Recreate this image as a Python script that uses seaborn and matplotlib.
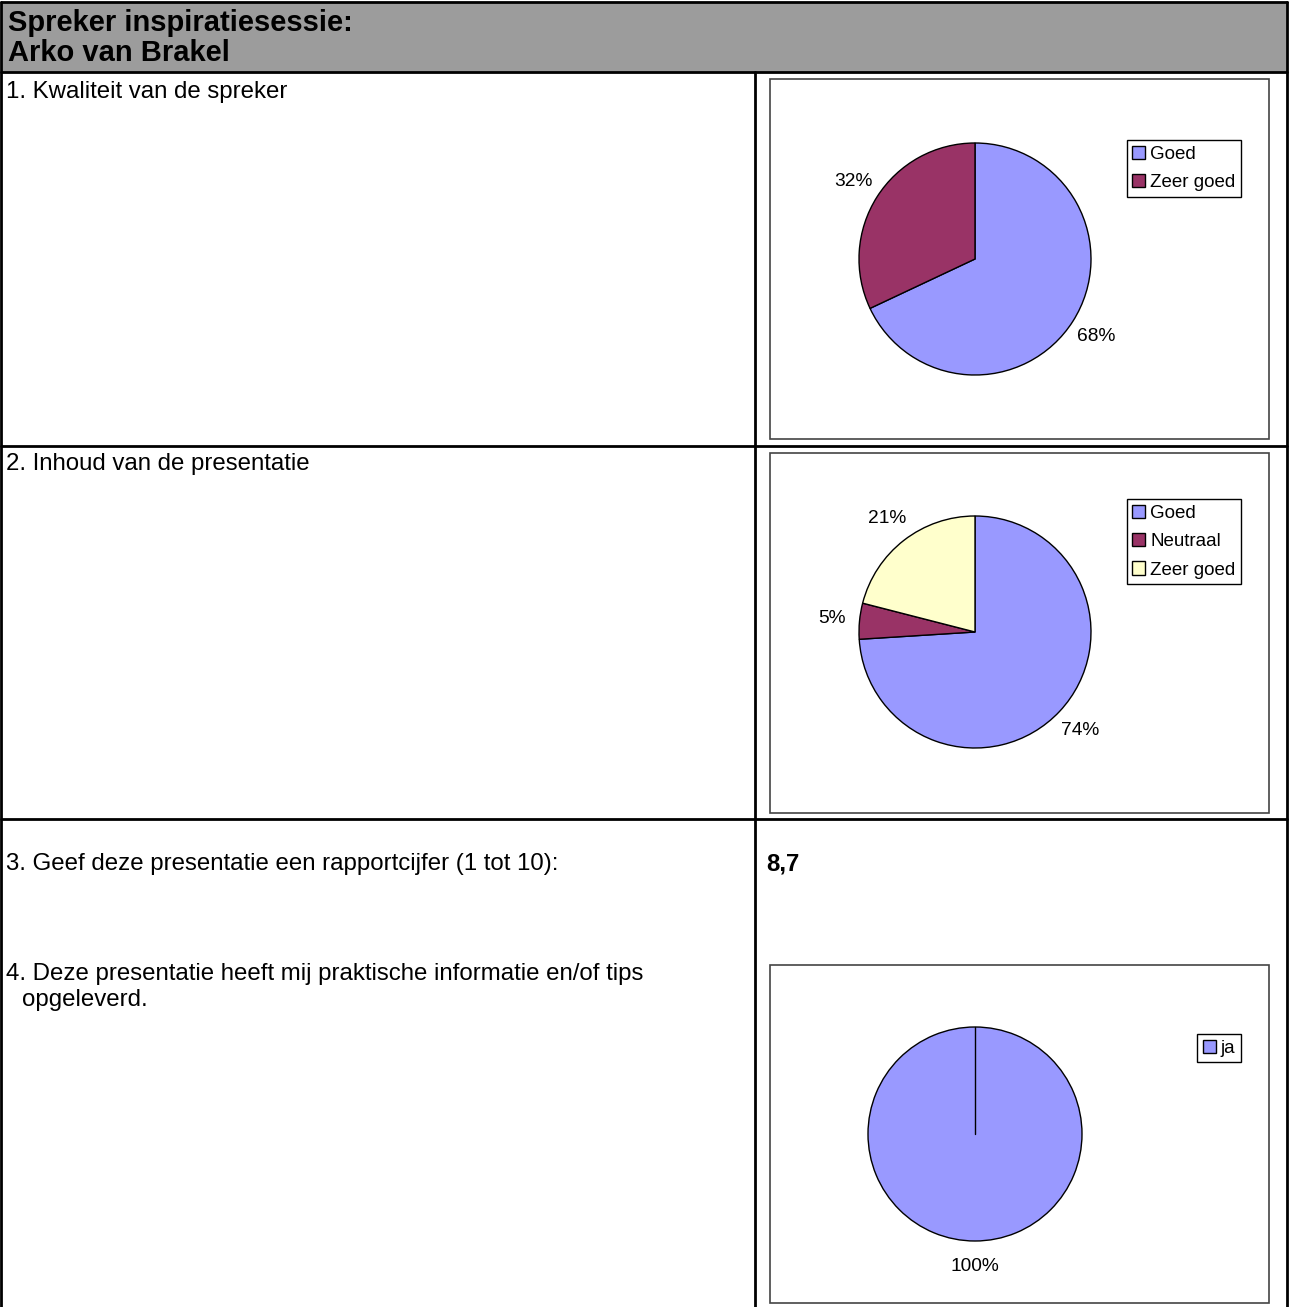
import matplotlib
matplotlib.use("Agg")
import seaborn as sns
import matplotlib.pyplot as plt
from matplotlib.patches import Rectangle, Patch

sns.set_theme(style="white")
plt.rcParams['font.family'] = ['Liberation Sans', 'DejaVu Sans']
plt.rcParams['text.color'] = 'black'

# data
header_lines = ["Spreker inspiratiesessie:", "Arko van Brakel"]
questions = ["1. Kwaliteit van de spreker",
             "2. Inhoud van de presentatie",
             "3. Geef deze presentatie een rapportcijfer (1 tot 10):",
             "4. Deze presentatie heeft mij praktische informatie en/of tips"]
question4_cont = "opgeleverd."
cijfer = "8,7"

q1_labels = ["Goed", "Zeer goed"]
q1_values = [68, 32]
q1_colors = ["#9999FF", "#993366"]

q2_labels = ["Goed", "Neutraal", "Zeer goed"]
q2_values = [74, 5, 21]
q2_colors = ["#9999FF", "#993366", "#FFFFCC"]

q4_labels = ["ja"]
q4_values = [100]
q4_colors = ["#9999FF"]

W, H = 1290, 1307
fig = plt.figure(figsize=(W / 100, H / 100), dpi=100)
bg = fig.add_axes([0, 0, 1, 1])
bg.set_xlim(0, W)
bg.set_ylim(H, 0)
bg.axis("off")

# table frame
bg.add_patch(Rectangle((2, 2), 1285, 70, facecolor="#9c9c9c", edgecolor="none"))
lw = 2
bg.plot([1, 1287], [2, 2], color="black", lw=lw)
bg.plot([1, 1287], [72, 72], color="black", lw=lw)
bg.plot([1, 1287], [446, 446], color="black", lw=lw)
bg.plot([1, 1287], [819, 819], color="black", lw=lw)
bg.plot([1, 1], [2, H], color="black", lw=lw)
bg.plot([1287, 1287], [2, H], color="black", lw=lw)
bg.plot([755, 755], [72, H], color="black", lw=lw)

fs = 17.3
bg.text(8, 23, header_lines[0], fontsize=21, fontweight="bold", va="center", ha="left")
bg.text(8, 53, header_lines[1], fontsize=21, fontweight="bold", va="center", ha="left")

bg.text(6, 92, questions[0], fontsize=fs, va="center")
bg.text(6, 464, questions[1], fontsize=fs, va="center")
bg.text(6, 864, questions[2], fontsize=fs, va="center")
bg.text(766, 864, cijfer, fontsize=fs, fontweight="bold", va="center")
bg.text(6, 974, questions[3], fontsize=fs, va="center")
bg.text(22, 1000, question4_cont, fontsize=fs, va="center")


def pie_box(box, center, radius, values, colors, labels, leg_pos):
    x0, y0, x1, y1 = box
    bg.add_patch(Rectangle((x0, y0), x1 - x0, y1 - y0, facecolor="white",
                           edgecolor="#444444", lw=1.2))
    ax = fig.add_axes([x0 / W, 1 - y1 / H, (x1 - x0) / W, (y1 - y0) / H])
    cx, cy = center
    ax.pie(values, colors=colors, startangle=90, counterclock=False,
           autopct="%.0f%%", pctdistance=1.24,
           wedgeprops=dict(edgecolor="black", linewidth=1),
           textprops=dict(fontsize=13.8, color="black"))
    if len(values) == 1:
        # excel draws the start edge of a full slice
        ax.plot([0, 0], [0, 1], color="black", lw=1)
    ax.set_aspect("auto")
    ax.set_xlim((x0 - cx) / radius, (x1 - cx) / radius)
    ax.set_ylim((cy - y1) / radius, (cy - y0) / radius)
    ax.axis("off")
    handles = [Patch(facecolor=c, edgecolor="black", linewidth=1) for c in colors]
    leg = ax.legend(handles, labels, loc="upper right",
                    bbox_to_anchor=(leg_pos[0] / W, 1 - leg_pos[1] / H),
                    bbox_transform=fig.transFigure, fontsize=13.5, frameon=True,
                    fancybox=False, framealpha=1, edgecolor="black",
                    handlelength=0.7, handleheight=0.7, handletextpad=0.25,
                    borderpad=0.3, labelspacing=0.6, borderaxespad=0)
    leg.get_frame().set_linewidth(1)
    return ax


pie_box((770, 79, 1269, 439), (975, 259), 116, q1_values, q1_colors, q1_labels, (1241, 140))
pie_box((770, 453, 1269, 813), (975, 632), 116, q2_values, q2_colors, q2_labels, (1241, 499))
pie_box((770, 965, 1269, 1303), (975, 1134), 107, q4_values, q4_colors, q4_labels, (1241, 1034))

fig.savefig("out.png", dpi=100)
